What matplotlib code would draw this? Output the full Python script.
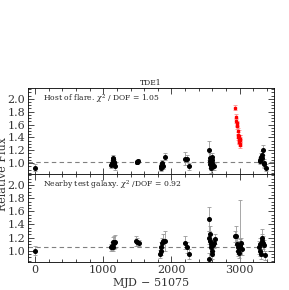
import numpy as np
import matplotlib
matplotlib.use('Agg')
import matplotlib.pyplot as plt
from matplotlib.ticker import MultipleLocator

# host of flare (top panel), quiescent points
top_x = [0, 1120, 1125, 1140, 1145, 1160, 1165, 1180, 1490, 1500, 1510,
         1840, 1850, 1855, 1865, 1870, 1900, 2200, 2230, 2250,
         2550, 2560, 2565, 2570, 2575, 2580, 2590, 2595, 2600, 2610, 2620,
         3290, 3300, 3310, 3320, 3330, 3340, 3350, 3360, 3380]
top_y = [0.93, 0.97, 1.00, 1.05, 1.08, 1.02, 0.99, 0.95, 1.02, 1.01, 1.03,
         0.93, 0.95, 0.97, 1.00, 0.96, 1.10, 1.07, 1.07, 0.95,
         1.20, 1.08, 1.03, 0.98, 0.92, 0.95, 1.05, 1.10, 1.00, 0.96, 0.95,
         1.03, 1.05, 1.10, 1.08, 1.12, 1.20, 1.00, 0.98, 0.93]
top_err = [0.05, 0.05, 0.05, 0.05, 0.05, 0.05, 0.05, 0.05, 0.03, 0.03, 0.03,
           0.05, 0.05, 0.05, 0.05, 0.05, 0.05, 0.10, 0.06, 0.05,
           0.15, 0.08, 0.06, 0.06, 0.07, 0.06, 0.06, 0.06, 0.06, 0.06, 0.05,
           0.05, 0.05, 0.06, 0.06, 0.07, 0.08, 0.06, 0.06, 0.05]

# flare points
flare_x = [2930, 2945, 2950, 2955, 2960, 2965, 2970, 2975, 2978, 2982, 2985,
           2990, 2993, 2997, 3000, 3003, 3006, 3010]
flare_y = [1.86, 1.72, 1.66, 1.62, 1.58, 1.60, 1.50, 1.44, 1.40, 1.36, 1.33,
           1.42, 1.35, 1.38, 1.30, 1.36, 1.28, 1.38]
flare_err = [0.04, 0.04, 0.04, 0.04, 0.05, 0.04, 0.05, 0.05, 0.04, 0.05, 0.04,
             0.10, 0.05, 0.05, 0.04, 0.05, 0.05, 0.05]

# nearby test galaxy (bottom panel)
bot_x = [0, 1120, 1130, 1140, 1150, 1165, 1180, 1480, 1500, 1520,
         1830, 1840, 1850, 1865, 1880, 1900, 2200, 2230, 2250,
         2545, 2550, 2555, 2560, 2570, 2575, 2580, 2590, 2600, 2610, 2620, 2630,
         2930, 2950, 2960, 2970, 2980, 2990, 3000, 3010, 3020, 3025,
         3280, 3290, 3300, 3310, 3320, 3330, 3340, 3350, 3370]
bot_y = [1.00, 1.05, 1.07, 1.05, 1.13, 1.12, 1.14, 1.15, 1.13, 1.12,
         0.95, 1.00, 1.05, 1.12, 1.15, 1.15, 1.12, 1.05, 0.95,
         1.20, 1.48, 0.88, 1.25, 1.15, 1.10, 1.05, 1.00, 0.95, 1.08, 1.12, 1.18,
         1.22, 1.23, 1.10, 1.05, 1.00, 0.97, 1.08, 1.07, 1.12, 1.02,
         1.05, 1.10, 1.00, 0.95, 1.15, 1.20, 1.12, 1.08, 0.93]
bot_err = [0.07, 0.05, 0.06, 0.05, 0.08, 0.10, 0.10, 0.08, 0.06, 0.05,
           0.06, 0.07, 0.08, 0.08, 0.10, 0.15, 0.10, 0.08, 0.07,
           0.10, 0.18, 0.08, 0.12, 0.10, 0.08, 0.08, 0.08, 0.08, 0.08, 0.08, 0.08,
           0.08, 0.15, 0.10, 0.10, 0.08, 0.08, 0.10, 0.70, 0.08, 0.08,
           0.10, 0.10, 0.08, 0.08, 0.10, 0.13, 0.10, 0.08, 0.07]

plt.rcParams['font.family'] = 'DejaVu Serif'
plt.rcParams['mathtext.fontset'] = 'dejavuserif'

fig = plt.figure(figsize=(2.89, 2.90), dpi=100)
ax1 = fig.add_axes([0.097, 0.400, 0.851, 0.297])
ax2 = fig.add_axes([0.097, 0.097, 0.851, 0.303], sharex=ax1)

def style(ax):
    ax.set_xlim(-100, 3500)
    ax.set_ylim(0.83, 2.17)
    ax.xaxis.set_major_locator(MultipleLocator(1000))
    ax.xaxis.set_minor_locator(MultipleLocator(200))
    ax.yaxis.set_major_locator(MultipleLocator(0.2))
    ax.yaxis.set_minor_locator(MultipleLocator(0.05))
    ax.tick_params(which='both', direction='in', top=True, right=True,
                   width=0.5, labelsize=8, pad=2, labelcolor='#333333')
    ax.tick_params(which='major', length=4)
    ax.tick_params(which='minor', length=2)
    ax.set_yticks([1.0, 1.2, 1.4, 1.6, 1.8, 2.0])
    ax.yaxis.set_major_formatter(plt.FormatStrFormatter('%.1f'))
    for s in ax.spines.values():
        s.set_linewidth(0.6)

ekw = dict(fmt='o', ms=2.6, mfc='black', mec='black', ecolor='#999999',
           elinewidth=0.6, capsize=1.5, capthick=0.6)

style(ax1)
ax1.errorbar(top_x, top_y, yerr=top_err, **ekw)
ax1.errorbar(flare_x, flare_y, yerr=flare_err, fmt='s', ms=1.8, mfc='red',
             mec='red', ecolor='#ff9090', elinewidth=0.6, capsize=1.5, capthick=0.6)
ax1.axhline(1.02, color='gray', ls='--', lw=0.8, dashes=(4, 3))
ax1.text(0.06, 0.87, r'Host of flare. $\chi^2$ / DOF = 1.05', transform=ax1.transAxes,
         fontsize=5.5, va='center', color='#222222')
ax1.set_title('TDE1', fontsize=5.5, pad=2, color='#222222')
plt.setp(ax1.get_xticklabels(), visible=False)

style(ax2)
ax2.errorbar(bot_x, bot_y, yerr=bot_err, **ekw)
ax2.axhline(1.05, color='gray', ls='--', lw=0.8, dashes=(4, 3))
ax2.text(0.06, 0.87, r'Nearby test galaxy. $\chi^2$ /DOF = 0.92', transform=ax2.transAxes,
         fontsize=5.5, va='center', color='#222222')
ax2.set_xlabel('MJD $-$ 51075', fontsize=8, labelpad=1, color='#333333')

fig.text(0.012, 0.40, 'Relative Flux', rotation=90, ha='center', va='center',
         fontsize=8, color='#333333')

fig.savefig('out.png', dpi=100)
